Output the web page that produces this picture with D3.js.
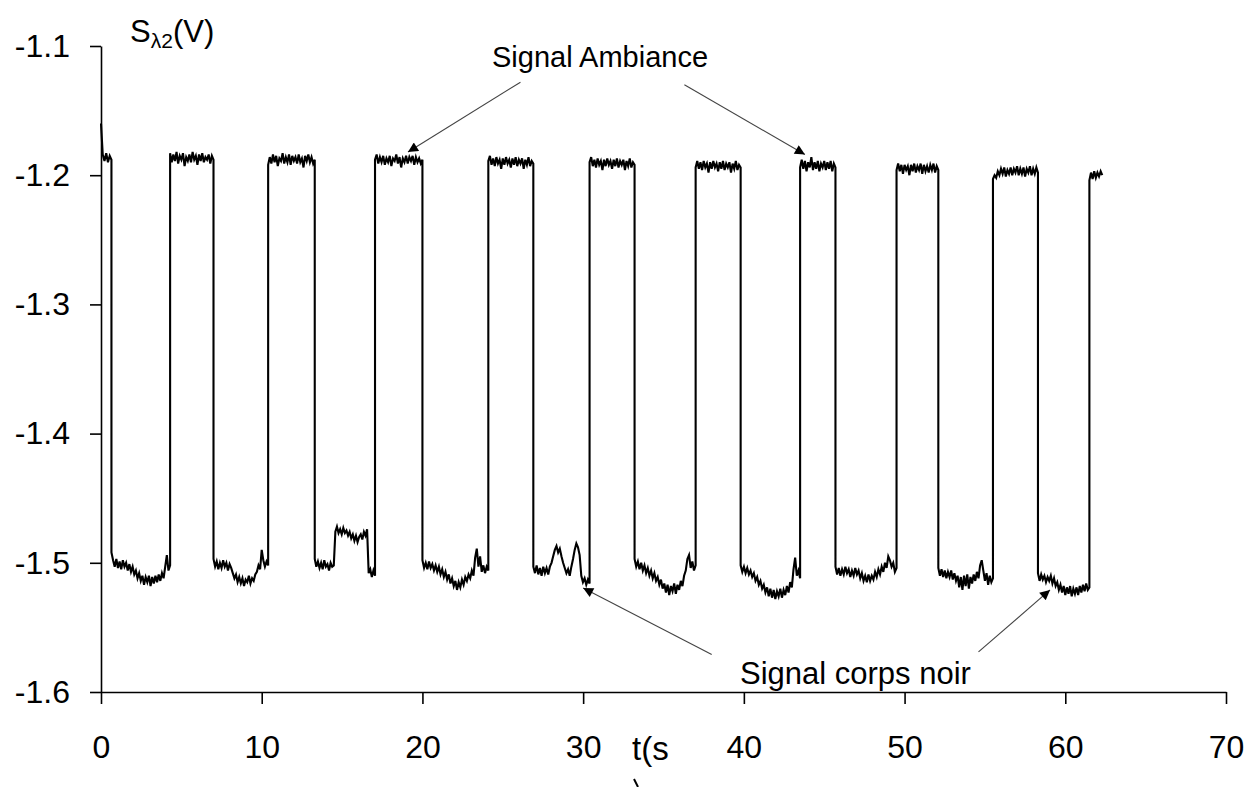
<!DOCTYPE html>
<html>
<head>
<meta charset="utf-8">
<script src="https://cdn.jsdelivr.net/npm/d3@7"></script>
<style>
  body { margin: 0; background: #fff; }
  svg { display: block; font-family: "Liberation Sans", Arial, sans-serif; }
  .axis path, .axis line { stroke: #000; stroke-width: 1.6px; }
  .axis text { font-size: 32px; fill: #000; font-family: "Liberation Sans", Arial, sans-serif; }
</style>
</head>
<body>
<div id="container"></div>
<script>
// time axis ticks (s) and voltage ticks (V)
const xTicks = [0, 10, 20, 30, 40, 50, 60, 70];
const yTicks = [-1.1, -1.2, -1.3, -1.4, -1.5, -1.6];

// switching instants (s): plateaus alternate ambiance / corps noir, starting with ambiance
const edgeTimes = [0, 0.65, 4.3, 7.0, 10.4, 13.3, 17.05, 20.0, 24.1, 26.9, 30.4, 33.2,
                   37.0, 39.8, 43.5, 45.7, 49.5, 52.1, 55.5, 58.3, 61.5, 62.3];

// samples (V)
const ambianceValues = [
  [-1.160, -1.184, -1.189, -1.183, -1.190, -1.185, -1.188],
  [-1.183, -1.190, -1.184, -1.189, -1.182, -1.191, -1.185, -1.188, -1.183, -1.193, -1.186, -1.189, -1.184, -1.190,
   -1.182, -1.188, -1.185, -1.192, -1.184, -1.189, -1.183, -1.190, -1.186, -1.188, -1.184, -1.191, -1.185, -1.188],
  [-1.192, -1.186, -1.191, -1.184, -1.190, -1.185, -1.193, -1.187, -1.189, -1.183, -1.191, -1.186, -1.190, -1.184, -1.192,
   -1.185, -1.189, -1.186, -1.191, -1.184, -1.190, -1.187, -1.194, -1.185, -1.189, -1.184, -1.190, -1.186, -1.191, -1.188],
  [-1.188, -1.184, -1.191, -1.186, -1.190, -1.185, -1.192, -1.187, -1.190, -1.185, -1.193, -1.187, -1.189, -1.184, -1.191,
   -1.186, -1.194, -1.187, -1.190, -1.185, -1.191, -1.186, -1.189, -1.185, -1.192, -1.186, -1.190, -1.187, -1.191, -1.188],
  [-1.189, -1.185, -1.192, -1.187, -1.193, -1.186, -1.191, -1.188, -1.195, -1.187, -1.192, -1.186, -1.191, -1.188, -1.194,
   -1.187, -1.192, -1.186, -1.193, -1.188, -1.191, -1.187, -1.195, -1.188, -1.192, -1.186, -1.193, -1.189, -1.191],
  [-1.190, -1.186, -1.193, -1.188, -1.194, -1.187, -1.192, -1.189, -1.196, -1.188, -1.193, -1.187, -1.192, -1.189, -1.195,
   -1.188, -1.193, -1.187, -1.194, -1.189, -1.192, -1.188, -1.196, -1.189, -1.193, -1.187, -1.194, -1.190, -1.192],
  [-1.194, -1.189, -1.195, -1.190, -1.196, -1.189, -1.194, -1.191, -1.198, -1.190, -1.195, -1.189, -1.194, -1.191, -1.197,
   -1.190, -1.195, -1.189, -1.196, -1.191, -1.194, -1.190, -1.198, -1.191, -1.195, -1.189, -1.196, -1.192, -1.194],
  [-1.194, -1.188, -1.195, -1.189, -1.197, -1.190, -1.194, -1.186, -1.196, -1.190, -1.195, -1.189, -1.197, -1.191, -1.194,
   -1.189, -1.196, -1.190, -1.195, -1.189, -1.197, -1.191, -1.194],
  [-1.196, -1.191, -1.197, -1.192, -1.199, -1.192, -1.196, -1.193, -1.200, -1.192, -1.197, -1.191, -1.198, -1.193, -1.196,
   -1.191, -1.199, -1.192, -1.197, -1.193, -1.198, -1.192, -1.196, -1.191, -1.198, -1.193, -1.196],
  [-1.203, -1.200, -1.202, -1.197, -1.200, -1.195, -1.199, -1.194, -1.201, -1.196, -1.199, -1.194, -1.200, -1.195, -1.198,
   -1.193, -1.200, -1.195, -1.199, -1.194, -1.201, -1.195, -1.198, -1.193, -1.200, -1.195, -1.199, -1.194, -1.198],
  [-1.204, -1.198, -1.203, -1.197, -1.202, -1.198, -1.201, -1.197, -1.200]
];

// samples (V)
const corpsNoirValues = [
  [-1.492, -1.498, -1.503, -1.497, -1.504, -1.499, -1.505, -1.498, -1.503, -1.500, -1.506, -1.501, -1.507, -1.503, -1.509,
   -1.506, -1.512, -1.508, -1.514, -1.510, -1.517, -1.511, -1.515, -1.510, -1.518, -1.511, -1.516, -1.510, -1.515, -1.509,
   -1.514, -1.508, -1.512, -1.503, -1.494, -1.506, -1.502],
  [-1.497, -1.503, -1.499, -1.505, -1.500, -1.504, -1.498, -1.503, -1.500, -1.506, -1.501, -1.504, -1.508, -1.512, -1.509,
   -1.515, -1.511, -1.516, -1.512, -1.518, -1.513, -1.515, -1.510, -1.516, -1.512, -1.514, -1.509, -1.507, -1.502, -1.505,
   -1.490, -1.498, -1.503, -1.499, -1.502],
  [-1.497, -1.503, -1.499, -1.504, -1.500, -1.505, -1.498, -1.503, -1.501, -1.506, -1.500, -1.503, -1.502, -1.476, -1.472,
   -1.477, -1.474, -1.478, -1.473, -1.477, -1.475, -1.479, -1.476, -1.481, -1.478, -1.483, -1.479, -1.484, -1.480, -1.478,
   -1.482, -1.476, -1.479, -1.474, -1.508, -1.505, -1.511, -1.506, -1.510],
  [-1.498, -1.504, -1.500, -1.505, -1.499, -1.504, -1.501, -1.506, -1.502, -1.507, -1.503, -1.509, -1.505, -1.511, -1.507,
   -1.513, -1.509, -1.516, -1.512, -1.518, -1.514, -1.521, -1.515, -1.519, -1.513, -1.517, -1.511, -1.514, -1.509, -1.512,
   -1.506, -1.510, -1.496, -1.489, -1.503, -1.495, -1.507, -1.502, -1.508, -1.503, -1.506],
  [-1.503, -1.508, -1.502, -1.509, -1.504, -1.510, -1.503, -1.508, -1.504, -1.509, -1.503, -1.500, -1.495, -1.490, -1.487,
   -1.492, -1.489, -1.495, -1.500, -1.504, -1.508, -1.505, -1.510, -1.503, -1.497, -1.490, -1.485, -1.488, -1.494, -1.510,
   -1.515, -1.512, -1.517, -1.513, -1.516],
  [-1.497, -1.503, -1.499, -1.505, -1.500, -1.506, -1.502, -1.508, -1.504, -1.510, -1.506, -1.512, -1.508, -1.514, -1.511,
   -1.517, -1.513, -1.520, -1.516, -1.523, -1.517, -1.525, -1.518, -1.522, -1.516, -1.524, -1.517, -1.521, -1.514, -1.518,
   -1.510, -1.506, -1.497, -1.494, -1.504, -1.499, -1.506, -1.502],
  [-1.502, -1.507, -1.503, -1.508, -1.504, -1.509, -1.506, -1.511, -1.508, -1.514, -1.511, -1.517, -1.514, -1.520, -1.517,
   -1.523, -1.519, -1.526, -1.520, -1.527, -1.521, -1.528, -1.522, -1.526, -1.520, -1.527, -1.521, -1.525, -1.518, -1.523,
   -1.515, -1.519, -1.505, -1.496, -1.510, -1.506, -1.512],
  [-1.503, -1.509, -1.504, -1.510, -1.505, -1.509, -1.503, -1.508, -1.505, -1.511, -1.506, -1.510, -1.504, -1.509, -1.506,
   -1.512, -1.508, -1.514, -1.510, -1.515, -1.509, -1.514, -1.510, -1.513, -1.507, -1.511, -1.505, -1.509, -1.503, -1.507,
   -1.500, -1.504, -1.495, -1.498, -1.503, -1.500, -1.507, -1.504],
  [-1.504, -1.510, -1.505, -1.511, -1.506, -1.512, -1.507, -1.511, -1.506, -1.513, -1.508, -1.514, -1.510, -1.519, -1.511,
   -1.521, -1.510, -1.518, -1.509, -1.520, -1.511, -1.516, -1.509, -1.514, -1.507, -1.512, -1.502, -1.498, -1.506, -1.514,
   -1.508, -1.517, -1.510, -1.515, -1.512],
  [-1.508, -1.514, -1.509, -1.513, -1.510, -1.515, -1.511, -1.514, -1.510, -1.516, -1.512, -1.518, -1.515, -1.521, -1.517,
   -1.523, -1.518, -1.525, -1.519, -1.524, -1.518, -1.526, -1.520, -1.524, -1.519, -1.525, -1.518, -1.523, -1.517, -1.522,
   -1.516, -1.521, -1.519]
];

// annotation arrows, tail and tip in data units [t, V]
const ambianceArrows = [[[26.1, -1.128], [19.1, -1.182]], [[36.3, -1.130], [43.8, -1.184]]];
const corpsNoirArrows = [[[38.0, -1.571], [30.0, -1.5195]], [[54.6, -1.569], [59.05, -1.521]]];

const W = 1247, H = 787;

var svg = d3.select("#container").append("svg")
  .attr("width", W)
  .attr("height", H);

const x = d3.scaleLinear().domain([0, 70]).range([101, 1226]);
const y = d3.scaleLinear().domain([-1.6, -1.1]).range([692, 46]);

// build the trace: each plateau spans its two switching instants
const trace = [];
for (let i = 0; i < edgeTimes.length - 1; i++) {
  const vals = i % 2 === 0 ? ambianceValues[i / 2] : corpsNoirValues[(i - 1) / 2];
  const t0 = edgeTimes[i], t1 = edgeTimes[i + 1];
  vals.forEach((v, k) => trace.push([t0 + (t1 - t0) * k / (vals.length - 1), v]));
}

svg.append("g")
  .attr("class", "axis")
  .attr("transform", `translate(${x(0)},0)`)
  .call(d3.axisLeft(y)
    .tickValues(yTicks)
    .tickSize(11)
    .tickSizeOuter(0)
    .tickPadding(20)
    .tickFormat(d => d.toFixed(1)));

svg.append("g")
  .attr("class", "axis")
  .attr("transform", `translate(0,${y(-1.6)})`)
  .call(d3.axisBottom(x)
    .tickValues(xTicks)
    .tickSize(12)
    .tickSizeOuter(0)
    .tickPadding(31)
    .tickFormat(d3.format("d")));

svg.append("path")
  .datum(trace)
  .attr("fill", "none")
  .attr("stroke", "#000")
  .attr("stroke-width", 2.1)
  .attr("stroke-linejoin", "miter")
  .attr("d", d3.line().x(d => x(d[0])).y(d => y(d[1])));

// axis titles
const yTitle = svg.append("text")
  .attr("x", 130)
  .attr("y", 42)
  .attr("font-size", 31);
yTitle.append("tspan").text("S");
yTitle.append("tspan").attr("font-size", 21).attr("dy", 6).text("λ2");
yTitle.append("tspan").attr("dy", -6).text("(V)");

svg.append("text")
  .attr("x", 632)
  .attr("y", 760)
  .attr("font-size", 33)
  .text("t(s");

// the wrapped ")" of the unit only shows as a short stroke at the bottom edge
svg.append("path")
  .attr("d", "M634,779L638,787")
  .attr("stroke", "#000")
  .attr("stroke-width", 2);

// annotations
svg.append("defs").append("marker")
  .attr("id", "head")
  .attr("viewBox", "0 0 10 10")
  .attr("refX", 10)
  .attr("refY", 5)
  .attr("markerWidth", 15)
  .attr("markerHeight", 10)
  .attr("markerUnits", "userSpaceOnUse")
  .attr("orient", "auto")
  .append("path")
  .attr("d", "M0,0L10,5L0,10Z")
  .attr("fill", "#000");

svg.selectAll(".arrow")
  .data(ambianceArrows.concat(corpsNoirArrows))
  .enter()
  .append("line")
  .attr("class", "arrow")
  .attr("x1", d => x(d[0][0]))
  .attr("y1", d => y(d[0][1]))
  .attr("x2", d => x(d[1][0]))
  .attr("y2", d => y(d[1][1]))
  .attr("stroke", "#444")
  .attr("stroke-width", 1.1)
  .attr("marker-end", "url(#head)");

svg.append("text")
  .attr("x", 600)
  .attr("y", 67)
  .attr("text-anchor", "middle")
  .attr("font-size", 29)
  .text("Signal Ambiance");

svg.append("text")
  .attr("x", 740)
  .attr("y", 684)
  .attr("font-size", 31)
  .text("Signal corps noir");
</script>
</body>
</html>
